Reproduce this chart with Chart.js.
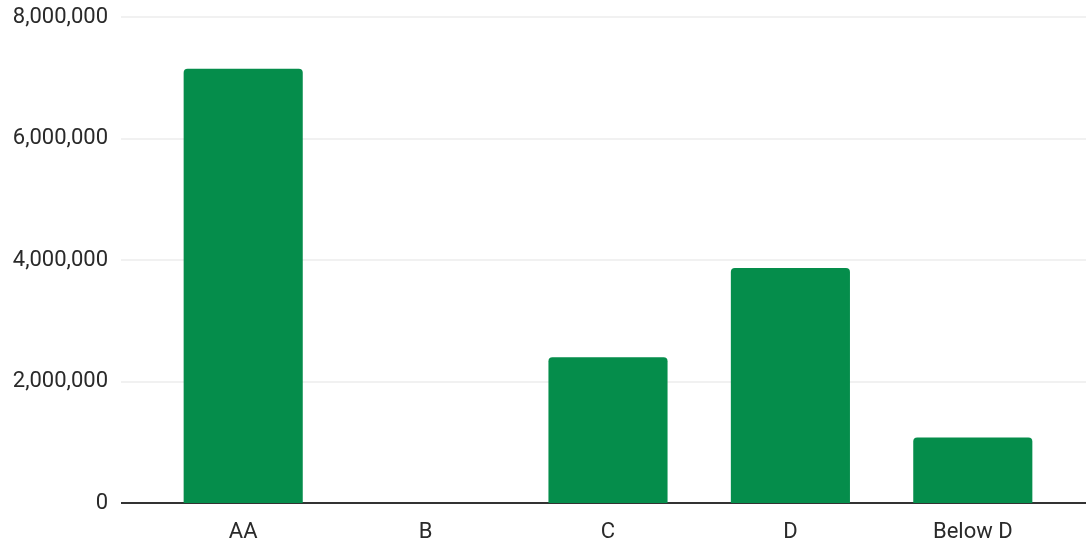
<!DOCTYPE html>
<html><head><meta charset="utf-8">
<script src="https://cdn.jsdelivr.net/npm/chart.js@4"></script>
<style>html,body{margin:0;padding:0;background:#fff}#wrap{width:1086px;height:541px}</style>
</head><body><div id="wrap"><canvas id="c"></canvas></div>
<script>
const categories = ["AA", "B", "C", "D", "Below D"];
const values = [7150000, 0, 2400000, 3870000, 1080000];
const yTicks = [0, 2000000, 4000000, 6000000, 8000000];

const gridPlugin = {
  id: 'extGrid',
  beforeDatasetsDraw(chart) {
    const ctx = chart.ctx, y = chart.scales.y;
    ctx.save();
    yTicks.forEach(v => {
      const py = Math.round(y.getPixelForValue(v));
      ctx.beginPath();
      if (v === 0) { ctx.strokeStyle = '#333'; ctx.lineWidth = 2; }
      else { ctx.strokeStyle = '#ececec'; ctx.lineWidth = 1.5; }
      ctx.moveTo(121, py); ctx.lineTo(chart.width, py); ctx.stroke();
    });
    ctx.restore();
  }
};

new Chart(document.getElementById('c'), {
  type: 'bar',
  data: { labels: categories, datasets: [{ data: values, backgroundColor: '#058d4b',
    borderRadius: {topLeft: 4, topRight: 4, bottomLeft: 0, bottomRight: 0}, borderSkipped: 'bottom',
    barPercentage: 0.653, categoryPercentage: 1 }] },
  options: {
    responsive: true, maintainAspectRatio: false, animation: false,
    layout: { padding: { top: 17, right: 22, left: 0, bottom: 0 } },
    plugins: { legend: { display: false }, tooltip: { enabled: false } },
    scales: {
      x: { grid: { display: false, drawTicks: false }, border: { display: false },
        ticks: { color: '#2a2a2a', font: { family: 'Roboto', size: 22 }, padding: 16 },
        afterFit(s) { s.height = 38; } },
      y: { min: 0, max: 8000000, grid: { display: false, drawTicks: true, tickLength: 44 }, border: { display: false },
        afterBuildTicks(s) { s.ticks = yTicks.map(v => ({ value: v })); },
        ticks: { color: '#2a2a2a', font: { family: 'Roboto', size: 22 }, padding: 0,
          callback: v => v.toLocaleString('en-US') },
        afterFit(s) { s.width = 152; } }
    }
  },
  plugins: [gridPlugin]
});
</script></body></html>
